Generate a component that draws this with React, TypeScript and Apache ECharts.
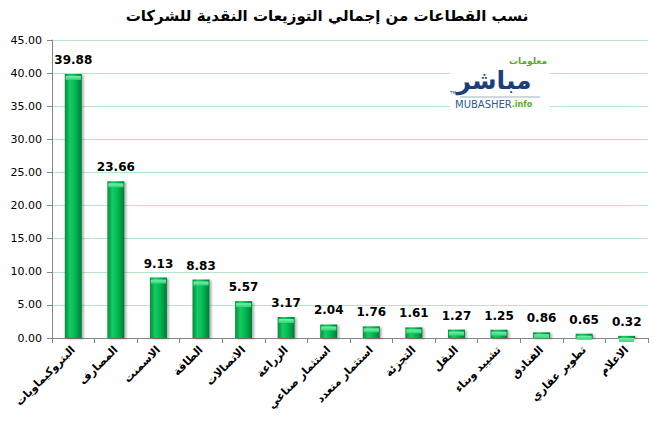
import React, { useEffect, useRef } from "react";
import * as echarts from "echarts";

const titleText = "نسب القطاعات من إجمالي التوزيعات النقدية للشركات";
const categories = [
  "البتروكيماويات",
  "المصارف",
  "الاسمنت",
  "الطاقة",
  "الاتصالات",
  "الزراعة",
  "استثمار صناعي",
  "استثمار متعدد",
  "التجزئة",
  "النقل",
  "تشييد وبناء",
  "الفنادق",
  "تطوير عقاري",
  "الاعلام",
];
const values = [39.88, 23.66, 9.13, 8.83, 5.57, 3.17, 2.04, 1.76, 1.61, 1.27, 1.25, 0.86, 0.65, 0.32];
const yMin = 0;
const yMax = 45;
const yStep = 5;

const FONT = "DejaVu Sans";

export default function App() {
  const ref = useRef<HTMLDivElement>(null);
  useEffect(() => {
    const chart = echarts.init(ref.current!, null, { renderer: "svg" });
    chart.setOption({
      animation: false,
      backgroundColor: "#ffffff",
      title: {
        text: titleText,
        left: "center",
        top: 3,
        textStyle: { fontFamily: FONT, fontSize: 15, fontWeight: "bold", color: "#000" },
      },
      grid: { left: 52, right: 6, top: 40, bottom: 89 },
      xAxis: {
        type: "category",
        data: categories,
        axisLine: { lineStyle: { color: "#868686" } },
        axisTick: { show: true, length: 5, lineStyle: { color: "#868686" } },
        axisLabel: {
          interval: 0,
          rotate: 45,
          margin: 10,
          fontFamily: FONT,
          fontSize: 11,
          fontWeight: "bold",
          color: "#000",
        },
      },
      yAxis: {
        type: "value",
        min: yMin,
        max: yMax,
        interval: yStep,
        axisLine: { show: true, lineStyle: { color: "#868686" } },
        axisTick: { show: true, length: 5, lineStyle: { color: "#868686" } },
        splitLine: { lineStyle: { color: "#b6e6c9", width: 1 } },
        axisLabel: {
          formatter: (v: number) => v.toFixed(2),
          fontFamily: FONT,
          fontSize: 11,
          color: "#000",
          margin: 10,
        },
      },
      series: [
        {
          type: "bar",
          data: values,
          barWidth: 17,
          itemStyle: {
            color: new echarts.graphic.LinearGradient(0, 0, 1, 0, [
              { offset: 0, color: "#07893b" },
              { offset: 0.3, color: "#14cc62" },
              { offset: 0.6, color: "#03b854" },
              { offset: 1, color: "#057c35" },
            ]),
            shadowColor: "rgba(0,0,0,0.3)",
            shadowOffsetX: 2,
            shadowOffsetY: 1,
            shadowBlur: 2,
          },
          label: {
            show: true,
            position: "top",
            distance: 8,
            formatter: (p: any) => p.value.toFixed(2),
            fontFamily: FONT,
            fontSize: 12,
            fontWeight: "bold",
            color: "#000",
          },
          z: 2,
        },
        {
          type: "pictorialBar",
          data: values,
          symbol: "rect",
          symbolPosition: "end",
          symbolSize: [15, 4],
          symbolOffset: [0, 2],
          barGap: "-100%",
          itemStyle: {
            color: new echarts.graphic.LinearGradient(0, 0, 0, 1, [
              { offset: 0, color: "#7cf0ab" },
              { offset: 1, color: "#2ed477" },
            ]),
          },
          silent: true,
          z: 3,
        },
      ],
      graphic: [
        {
          type: "rect",
          shape: { x: 450, y: 56, width: 100, height: 52 },
          style: { fill: "#ffffff" },
          z: 10,
        },
        {
          type: "text",
          x: 547,
          y: 56,
          style: {
            text: "معلومات",
            fontFamily: FONT,
            fontSize: 9,
            fontWeight: "bold",
            fill: "#5aaa2a",
            align: "right",
          },
          z: 11,
        },
        {
          type: "text",
          x: 494,
          y: 68,
          style: {
            text: "مباشر",
            fontFamily: FONT,
            fontSize: 25,
            fontWeight: "bold",
            fill: "#1c3f7a",
            align: "center",
          },
          z: 11,
        },
        {
          type: "line",
          shape: { x1: 460, y1: 97, x2: 540, y2: 97 },
          style: { stroke: "#9ab0cf", lineWidth: 1 },
          z: 11,
        },
        {
          type: "text",
          x: 455,
          y: 99,
          style: {
            text: "{a|MUBASHER}{b|.info}",
            rich: {
              a: { fontFamily: FONT, fontSize: 10, fill: "#2c5aa0", color: "#2c5aa0" },
              b: { fontFamily: FONT, fontSize: 8, fontWeight: "bold", fill: "#5aaa2a", color: "#5aaa2a" },
            },
          },
          z: 11,
        },
        {
          type: "text",
          x: 450,
          y: 90,
          style: { text: "TM", fontFamily: FONT, fontSize: 4, fill: "#1c3f7a" },
          z: 11,
        },
      ],
    });
    return () => chart.dispose();
  }, []);
  return <div ref={ref} style={{ width: 654, height: 427, position: "absolute", left: 0, top: 0 }} />;
}
